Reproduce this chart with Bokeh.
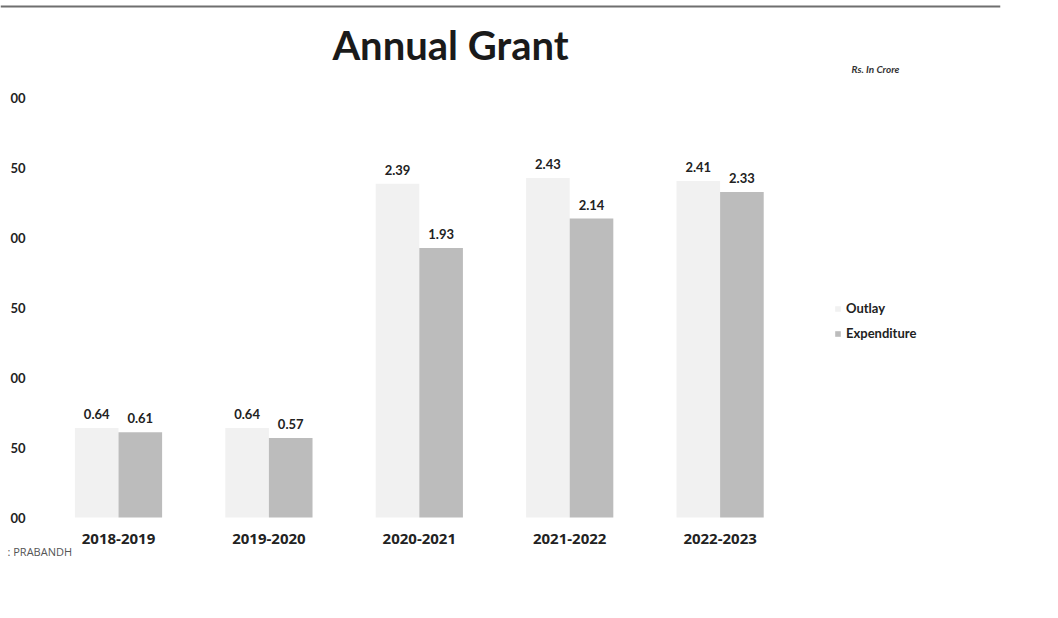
from bokeh.plotting import figure
from bokeh.models import (ColumnDataSource, Legend, LegendItem, Label, FixedTicker, Range1d, Span)
from bokeh.core.properties import value
from bokeh.embed import file_html
from bokeh.resources import INLINE

years = ["2018-2019", "2019-2020", "2020-2021", "2021-2022", "2022-2023"]
outlay = [0.64, 0.64, 2.39, 2.43, 2.41]
expenditure = [0.61, 0.57, 1.93, 2.14, 2.33]
y_ticks = [0.0, 0.5, 1.0, 1.5, 2.0, 2.5, 3.0]
y_tick_labels = ["00", "50", "00", "50", "00", "50", "00"]

idx = list(range(len(years)))
bw = 0.29
src = ColumnDataSource(dict(
    xo=[i - bw / 2 for i in idx], xe=[i + bw / 2 for i in idx],
    outlay=outlay, expenditure=expenditure,
    outlay_txt=["%.2f" % v for v in outlay],
    exp_txt=["%.2f" % v for v in expenditure],
))

# layout: frame 0..1000 x 0..560 px ; 150.4 px per category, 139.67 px per unit
W, H = 1040, 600
FR_W, FR_H = 1000, 560
px_x = 150.4
px_y = 139.67
x0_px = 118   # screen x of first category
y0_px = 517   # screen y of value 0
x_range = Range1d(-x0_px / px_x, (FR_W - x0_px) / px_x)
y_range = Range1d(-(FR_H - y0_px) / px_y, y0_px / px_y)

p = figure(x_range=x_range, y_range=y_range, width=W, height=H,
           output_backend="svg", toolbar_location=None, y_axis_location="right",
           min_border_left=0, min_border_right=W - FR_W, min_border_top=0,
           min_border_bottom=H - FR_H)
p.outline_line_color = None
p.grid.grid_line_color = None
p.background_fill_color = "white"
p.border_fill_color = "white"

r1 = p.vbar(x="xo", top="outlay", width=bw, source=src, fill_color="#f1f1f1", line_color=None)
r2 = p.vbar(x="xe", top="expenditure", width=bw, source=src, fill_color="#bcbcbc", line_color=None)

lbl_font = value("Lato")
for xcol, ycol, tcol in (("xo", "outlay", "outlay_txt"), ("xe", "expenditure", "exp_txt")):
    p.text(x=xcol, y=ycol, text=tcol, source=src,
           text_align="center", text_baseline="bottom", y_offset=-9,
           text_font=lbl_font, text_font_size="13px", text_font_style="bold",
           text_color="#222222")

# y axis (drawn at the left edge, labels cut like the scan)
ya = p.yaxis[0]
ya.ticker = FixedTicker(ticks=y_ticks)
ya.major_label_overrides = {t: s for t, s in zip(y_ticks, y_tick_labels)}
ya.fixed_location = (8 - x0_px) / px_x
ya.axis_line_color = None
ya.major_tick_line_color = None
ya.minor_tick_line_color = None
ya.major_tick_out = 0
ya.major_tick_in = 0
ya.major_label_standoff = 2
ya.major_label_text_font = "Lato"
ya.major_label_text_font_size = "13px"
ya.major_label_text_font_style = "bold"
ya.major_label_text_color = "#222222"

xa = p.xaxis[0]
xa.ticker = FixedTicker(ticks=idx)
xa.major_label_overrides = {i: y for i, y in zip(idx, years)}
xa.fixed_location = 0
xa.axis_line_color = None
xa.major_tick_line_color = None
xa.minor_tick_line_color = None
xa.major_tick_out = 0
xa.major_tick_in = 0
xa.major_label_standoff = 16
xa.major_label_text_font = "Open Sans"
xa.major_label_text_font_size = "15px"
xa.major_label_text_font_style = "bold"
xa.major_label_text_color = "#222222"

legend = Legend(items=[LegendItem(label="Outlay", renderers=[r1]),
                       LegendItem(label="Expenditure", renderers=[r2])],
                location=(834, 219), orientation="vertical")
legend.border_line_color = None
legend.background_fill_alpha = 0
legend.padding = 0
legend.margin = 0
legend.spacing = 9
legend.glyph_width = 7
legend.glyph_height = 7
legend.label_standoff = 5
legend.label_text_font = "Lato"
legend.label_text_font_size = "13px"
legend.label_text_font_style = "bold"
legend.label_text_color = "#222222"
p.add_layout(legend)

p.add_layout(Label(x=450, y=FR_H - 44, x_units="screen", y_units="screen", text="Annual Grant",
                   text_align="center", text_baseline="middle", text_font="Lato",
                   text_font_size="40px", text_font_style="bold", text_color="#1a1a1a"))
p.add_layout(Label(x=875, y=FR_H - 68, x_units="screen", y_units="screen", text="Rs. In Crore",
                   text_align="center", text_baseline="middle", text_font="Lato",
                   text_font_size="10px", text_font_style="bold italic", text_color="#333333"))
p.add_layout(Label(x=7, y=FR_H - 551, x_units="screen", y_units="screen", text=": PRABANDH",
                   text_align="left", text_baseline="middle", text_font="Open Sans",
                   text_font_size="11px", text_color="#555555"))

# scan edge line at the top
p.add_layout(Span(location=y_range.end - 6 / px_y, dimension="width",
                  line_color="#6f6f6f", line_width=2))

open("out.html", "w").write(file_html(p, INLINE))
